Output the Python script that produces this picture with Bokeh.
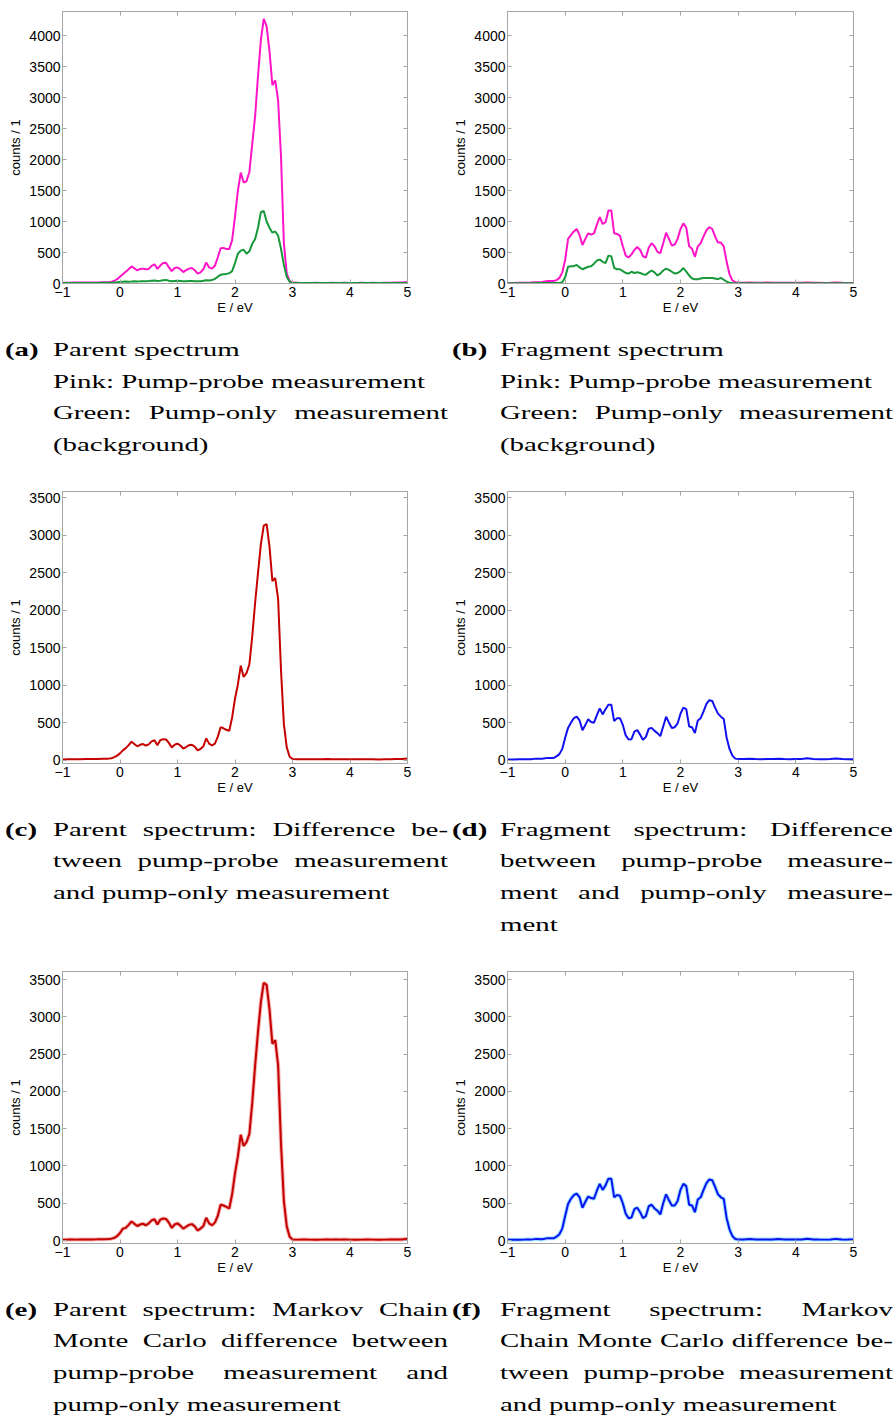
from bokeh.plotting import figure
from bokeh.models import Range1d, LinearAxis, SingleIntervalTicker, Div, CustomJSTickFormatter
from bokeh.layouts import column, row
from bokeh.embed import file_html
from bokeh.resources import INLINE

# ---------------- data ----------------
energy = [-1.0, -0.9, -0.8, -0.7, -0.6, -0.5, -0.4, -0.3, -0.2, -0.15, -0.1, -0.05,
          0.0, 0.05, 0.1, 0.15, 0.2, 0.25, 0.3, 0.35, 0.4, 0.45, 0.5, 0.55, 0.6, 0.65, 0.7, 0.75,
          0.8, 0.85, 0.9, 0.95, 1.0, 1.05, 1.1, 1.15, 1.2, 1.25, 1.3, 1.35, 1.4, 1.45, 1.5, 1.55,
          1.6, 1.65, 1.7, 1.75, 1.8, 1.85, 1.9, 1.95, 2.0, 2.05, 2.1, 2.15, 2.2, 2.25, 2.3, 2.35,
          2.4, 2.45, 2.5, 2.55, 2.6, 2.65, 2.7, 2.75, 2.8, 2.85, 2.9, 2.95, 3.0,
          3.1, 3.2, 3.3, 3.4, 3.5, 3.6, 3.7, 3.8, 3.9, 4.0, 4.1, 4.2, 4.3, 4.4, 4.5, 4.6, 4.7, 4.8, 4.9, 5.0]

parent_pump_probe = [12, 14, 15, 15, 16, 16, 18, 20, 22, 28, 40, 70,
    110, 150, 190, 230, 275, 245, 210, 235, 240, 230, 235, 285, 310, 235, 290, 330,
    335, 260, 200, 250, 260, 230, 185, 215, 240, 250, 215, 160, 180, 230, 340, 260,
    240, 285, 420, 570, 575, 555, 555, 700, 1080, 1500, 1790, 1630, 1650, 1800, 2250, 2700,
    3350, 3930, 4270, 4150, 3750, 3200, 3280, 2950, 2050, 650, 160, 40, 15,
    12, 10, 10, 11, 10, 10, 12, 10, 11, 10, 10, 12, 10, 11, 10, 12, 14, 16, 18, 25]

parent_pump_only = [8, 8, 9, 9, 9, 10, 10, 11, 12, 14, 16, 20,
    25, 30, 32, 30, 32, 35, 33, 35, 38, 36, 40, 45, 48, 42, 45, 52,
    58, 45, 38, 42, 45, 40, 35, 38, 40, 42, 38, 35, 38, 45, 52, 50,
    55, 75, 110, 140, 150, 155, 165, 200, 330, 480, 530, 545, 480, 520, 640, 720,
    900, 1150, 1170, 1000, 900, 820, 840, 770, 560, 300, 110, 30, 10,
    8, 7, 8, 9, 8, 7, 8, 8, 9, 8, 7, 8, 8, 9, 8, 8, 9, 8, 8, 10]

fragment_pump_probe = [8, 10, 12, 14, 16, 22, 25, 42, 40, 55, 90, 180,
    380, 720, 780, 840, 880, 780, 620, 720, 810, 790, 810, 950, 1070, 960, 990, 1180,
    1180, 810, 800, 770, 600, 450, 420, 470, 540, 590, 540, 440, 420, 580, 650, 600,
    510, 490, 650, 820, 720, 610, 630, 720, 880, 970, 900, 600, 560, 430, 600, 650,
    760, 860, 910, 880, 760, 660, 660, 600, 350, 150, 50, 22, 15,
    14, 15, 13, 12, 16, 12, 12, 13, 12, 11, 12, 15, 11, 12, 10, 12, 16, 11, 10, 10]

fragment_pump_only = [5, 5, 6, 6, 6, 7, 7, 8, 8, 9, 10, 20,
    100, 270, 280, 280, 300, 260, 230, 250, 270, 280, 320, 370, 385, 350, 330, 450,
    440, 250, 230, 230, 200, 170, 160, 190, 170, 180, 170, 150, 140, 180, 210, 180,
    130, 160, 210, 240, 220, 190, 160, 170, 200, 250, 190, 130, 80, 70, 70, 80,
    90, 90, 90, 90, 80, 70, 90, 60, 30, 12, 8, 6, 5,
    5, 5, 6, 5, 5, 6, 5, 5, 5, 6, 5, 5, 5, 6, 5, 5, 5, 6, 5, 5]

parent_difference = [10, 12, 12, 13, 14, 15, 16, 18, 20, 25, 40, 60,
    90, 130, 160, 200, 245, 215, 185, 205, 215, 195, 210, 250, 265, 200, 265, 280,
    275, 230, 170, 205, 220, 195, 155, 175, 200, 205, 180, 130, 150, 185, 290, 220,
    195, 220, 310, 440, 425, 405, 390, 570, 820, 1010, 1260, 1110, 1160, 1280, 1650, 2100,
    2500, 2880, 3130, 3150, 2850, 2390, 2430, 2150, 1200, 480, 170, 45, 15,
    12, 13, 12, 11, 12, 14, 12, 12, 13, 12, 11, 12, 13, 12, 10, 12, 13, 14, 15, 22]

fragment_difference = [10, 10, 11, 12, 12, 20, 18, 30, 30, 50, 80, 150,
    300, 430, 500, 560, 580, 530, 400, 470, 545, 510, 500, 600, 690, 610, 680, 740,
    740, 520, 560, 560, 470, 330, 275, 280, 380, 400, 340, 270, 310, 420, 430, 390,
    360, 320, 450, 580, 500, 430, 440, 490, 620, 700, 680, 450, 440, 360, 530, 560,
    650, 750, 800, 790, 700, 620, 580, 550, 300, 150, 60, 20, 15,
    14, 20, 15, 13, 14, 15, 20, 14, 13, 15, 14, 24, 15, 13, 12, 14, 22, 15, 12, 12]

parent_mcmc = [10, 12, 12, 13, 14, 15, 16, 18, 20, 25, 35, 60,
    100, 160, 170, 210, 255, 225, 195, 215, 225, 205, 230, 270, 285, 215, 280, 295,
    290, 240, 170, 215, 230, 200, 160, 185, 210, 220, 190, 135, 160, 195, 305, 230,
    205, 240, 330, 480, 470, 450, 430, 620, 900, 1130, 1420, 1270, 1320, 1430, 1850, 2350,
    2800, 3200, 3460, 3430, 3100, 2640, 2690, 2350, 1300, 530, 190, 50, 15,
    12, 13, 12, 11, 12, 14, 12, 12, 13, 12, 11, 12, 13, 12, 10, 12, 13, 14, 15, 25]

fragment_mcmc = [10, 10, 11, 12, 12, 22, 18, 32, 30, 52, 85, 160,
    330, 490, 560, 610, 630, 580, 440, 520, 590, 570, 560, 670, 760, 680, 740, 830,
    830, 580, 610, 600, 500, 360, 300, 310, 420, 440, 380, 300, 330, 460, 480, 430,
    400, 350, 500, 620, 540, 470, 470, 530, 680, 760, 730, 480, 470, 380, 550, 580,
    680, 770, 820, 810, 720, 620, 580, 560, 300, 150, 60, 20, 15,
    14, 20, 15, 13, 14, 15, 20, 14, 13, 15, 14, 24, 15, 13, 12, 14, 22, 15, 12, 12]

for s in (parent_pump_probe, parent_pump_only, fragment_pump_probe, fragment_pump_only,
          parent_difference, fragment_difference, parent_mcmc, fragment_mcmc):
    assert len(s) == len(energy), len(s)

x_label = "E / eV"
y_label = "counts / 1"

captions = {
    "a": (["Parent spectrum", "Pink: Pump-probe measurement", "Green: Pump-only measurement", "(background)"],
          [False, False, True, False]),
    "b": (["Fragment spectrum", "Pink: Pump-probe measurement", "Green: Pump-only measurement", "(background)"],
          [False, False, True, False]),
    "c": (["Parent spectrum: Difference be-", "tween pump-probe measurement", "and pump-only measurement"],
          [True, True, False]),
    "d": (["Fragment spectrum: Difference", "between pump-probe measure-", "ment and pump-only measure-", "ment"],
          [True, True, True, False]),
    "e": (["Parent spectrum: Markov Chain", "Monte Carlo difference between", "pump-probe measurement and",
           "pump-only measurement"], [True, True, True, False]),
    "f": (["Fragment spectrum: Markov", "Chain Monte Carlo difference be-", "tween pump-probe measurement",
           "and pump-only measurement"], [True, True, True, False]),
}

# ---------------- styling ----------------
PINK = "#ff14c8"
GREEN = "#17983a"
DRED = "#c40000"
BLUE = "#1010f0"
FRAME = "#a6a6a6"
SANS = "Liberation Sans"


def make_fig(left, right, ymin, ymax):
    p = figure(width=448, height=318, x_range=Range1d(-1, 5), y_range=Range1d(ymin, ymax),
               output_backend="svg", toolbar_location=None,
               min_border_left=left, min_border_right=right, min_border_top=11, min_border_bottom=35,
               background_fill_color="white", border_fill_color="white")
    p.grid.visible = False
    p.outline_line_color = FRAME
    p.outline_line_width = 1
    xt = SingleIntervalTicker(interval=1, num_minor_ticks=0)
    yt = SingleIntervalTicker(interval=500, num_minor_ticks=0)
    p.xaxis.ticker = xt
    p.yaxis.ticker = yt
    for ax in (p.xaxis[0], p.yaxis[0]):
        ax.axis_line_color = FRAME
        ax.major_tick_line_color = FRAME
        ax.major_tick_in = 4
        ax.major_tick_out = 0
        ax.minor_tick_line_color = None
        ax.major_label_text_font = SANS
        ax.major_label_text_font_size = "14px"
        ax.major_label_text_color = "#000000"
        ax.axis_label_text_font = SANS
        ax.axis_label_text_font_size = "13px"
        ax.axis_label_text_font_style = "normal"
        ax.axis_label_text_color = "#000000"
    p.xaxis.axis_label = x_label
    p.yaxis.axis_label = y_label
    p.xaxis.major_label_standoff = 3
    p.xaxis.axis_label_standoff = 0
    p.yaxis.major_label_standoff = 2
    p.yaxis.axis_label_standoff = 3
    blank = CustomJSTickFormatter(code="return ''")
    for loc, tick in (("right", yt), ("above", xt)):
        ax = LinearAxis(ticker=tick, formatter=blank)
        ax.axis_line_color = FRAME
        ax.major_tick_line_color = FRAME
        ax.major_tick_in = 4
        ax.major_tick_out = 0
        ax.minor_tick_line_color = None
        ax.major_label_standoff = 0
        ax.major_label_text_font_size = "1px"
        p.add_layout(ax, loc)
    return p


S = 1.48
FS = 19.5
LH = 31.7


def caption(key, lab_x, txt_x, txt_w, top, height):
    lines, just = captions[key]
    rows = []
    for line, j in zip(lines, just):
        if j:
            st = "text-align:justify;text-align-last:justify;word-spacing:-3px;"
        else:
            st = "text-align:left;white-space:nowrap;"
        rows.append(f'<div style="{st}">{line}</div>')
    html = (
        f'<div style="position:relative;width:448px;height:{height}px;font-family:\'Liberation Serif\',serif;'
        f'font-size:{FS}px;line-height:{LH}px;color:#000;">'
        f'<div style="position:absolute;left:{lab_x}px;top:{top}px;font-weight:bold;transform:scaleX({S});'
        f'transform-origin:0 0;white-space:nowrap;">({key})</div>'
        f'<div style="position:absolute;left:{txt_x}px;top:{top}px;width:{txt_w / S:.1f}px;'
        f'transform:scaleX({S});transform-origin:0 0;">{"".join(rows)}</div></div>'
    )
    return Div(text=html, width=448, height=height, margin=(0, 0, 0, 0))


# top row
pa = make_fig(62, 41, 0, 4390)
pa.line(energy, parent_pump_probe, color=PINK, line_width=2)
pa.line(energy, parent_pump_only, color=GREEN, line_width=2)

pb = make_fig(59, 43, 0, 4390)
pb.line(energy, fragment_pump_probe, color=PINK, line_width=2)
pb.line(energy, fragment_pump_only, color=GREEN, line_width=2)

# middle row
pc = make_fig(62, 41, -45, 3585)
pc.line(energy, parent_difference, color=DRED, line_width=2)

pd = make_fig(59, 43, -45, 3585)
pd.line(energy, fragment_difference, color=BLUE, line_width=2)

# bottom row
pe = make_fig(62, 41, -40, 3610)
pe.line(energy, parent_mcmc, color="#f3a0a0", line_width=4, alpha=0.8)
pe.line(energy, parent_mcmc, color=DRED, line_width=2)

pf = make_fig(59, 43, -40, 3610)
pf.line(energy, fragment_mcmc, color="#7fe0ff", line_width=4, alpha=0.8)
pf.line(energy, fragment_mcmc, color=BLUE, line_width=2)

for p in (pa, pb, pc, pd, pe, pf):
    p.margin = (0, 0, 0, 0)

ca = caption("a", 5, 53, 395, 16, 162)
cb = caption("b", 4, 52, 393, 16, 162)
cc = caption("c", 5, 53, 395, 15.5, 162)
cd = caption("d", 4, 52, 393, 15.5, 162)
ce = caption("e", 5, 53, 395, 15.5, 140)
cf = caption("f", 4, 52, 393, 15.5, 140)

layout = column(row(pa, pb, spacing=0), row(ca, cb, spacing=0),
                row(pc, pd, spacing=0), row(cc, cd, spacing=0),
                row(pe, pf, spacing=0), row(ce, cf, spacing=0), spacing=0)

open("out.html", "w").write(file_html(layout, INLINE))
